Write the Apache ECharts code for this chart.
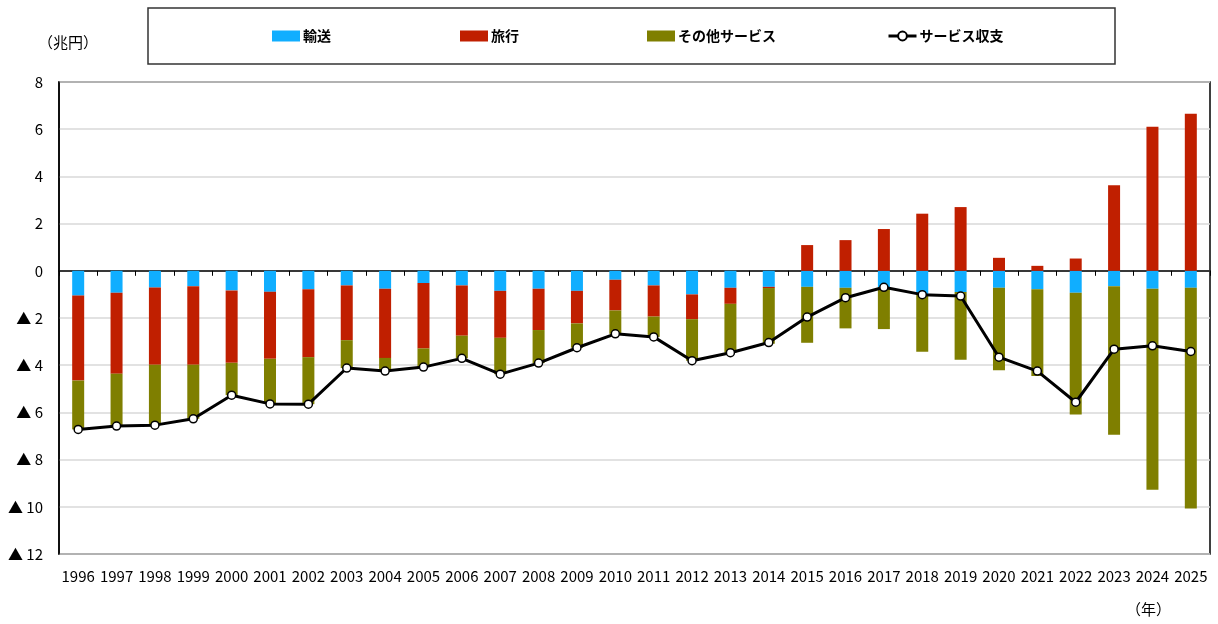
<!DOCTYPE html>
<html>
<head>
<meta charset="utf-8">
<script src="https://cdn.jsdelivr.net/npm/echarts@6/dist/echarts.min.js"></script>
<style>
html, body { margin: 0; padding: 0; background: #fff; }
#container { width: 1218px; height: 624px; }
</style>
</head>
<body>
<div id="container"></div>
<script>
var years = ['1996','1997','1998','1999','2000','2001','2002','2003','2004','2005',
    '2006','2007','2008','2009','2010','2011','2012','2013','2014','2015',
    '2016','2017','2018','2019','2020','2021','2022','2023','2024','2025'];

// 輸送
var transport = [-1.05,-0.93,-0.71,-0.65,-0.83,-0.89,-0.78,-0.62,-0.76,-0.52,
    -0.62,-0.85,-0.76,-0.85,-0.38,-0.62,-1.00,-0.72,-0.68,-0.68,
    -0.72,-0.69,-0.99,-0.90,-0.72,-0.78,-0.93,-0.65,-0.76,-0.72];
// 旅行
var travel = [-3.60,-3.43,-3.27,-3.33,-3.07,-2.84,-2.88,-2.32,-2.93,-2.77,
    -2.13,-1.99,-1.75,-1.38,-1.30,-1.32,-1.05,-0.68,-0.05,1.09,
    1.30,1.77,2.42,2.70,0.55,0.21,0.52,3.63,6.10,6.65];
// その他サービス
var other = [-2.07,-2.22,-2.56,-2.29,-1.37,-1.91,-1.99,-1.18,-0.56,-0.79,
    -0.96,-1.54,-1.40,-1.03,-0.99,-0.86,-1.76,-2.07,-2.36,-2.37,
    -1.72,-1.78,-2.44,-2.87,-3.49,-3.68,-5.16,-6.30,-8.52,-9.35];
// サービス収支
var balance = [-6.72,-6.58,-6.54,-6.27,-5.27,-5.64,-5.65,-4.12,-4.25,-4.08,
    -3.71,-4.38,-3.91,-3.26,-2.67,-2.80,-3.81,-3.47,-3.04,-1.96,
    -1.14,-0.70,-1.01,-1.07,-3.66,-4.25,-5.57,-3.32,-3.18,-3.42];

var font = '"Noto Sans CJK JP", "Noto Sans", sans-serif';

// one legend per item so each sits where the original puts it
function legendAt(left, item) {
    return {
        left: left, top: 29, padding: 0,
        itemWidth: 28, itemHeight: 11, itemGap: 0,
        textStyle: { fontSize: 14, fontWeight: 'bold', color: '#000', fontFamily: font, padding: [0, 0, 0, -2] },
        data: [item]
    };
}

var chart = echarts.init(document.getElementById('container'), null, { renderer: 'canvas' });

chart.setOption({
    animation: false,
    textStyle: { fontFamily: font },
    grid: {
        left: 59, right: 8, top: 82, bottom: 70,
        show: true, borderColor: '#000', borderWidth: 1.5
    },
    legend: [
        legendAt(272, { name: '輸送', icon: 'rect' }),
        legendAt(460, { name: '旅行', icon: 'rect' }),
        legendAt(647, { name: 'その他サービス', icon: 'rect' }),
        legendAt(887, { name: 'サービス収支', lineStyle: { width: 3, color: '#000' } })
    ],
    graphic: [
        { type: 'rect', shape: { x: 148, y: 8, width: 967, height: 56 },
          style: { fill: 'none', stroke: '#333', lineWidth: 1.5 } },
        { type: 'text', left: 38, top: 35,
          style: { text: '（兆円）', font: '15px ' + font, fill: '#000' } },
        { type: 'text', left: 1126, top: 602,
          style: { text: '（年）', font: '15px ' + font, fill: '#000' } }
    ],
    xAxis: [
        {
            type: 'category', data: years, position: 'bottom',
            axisLine: { show: false, onZero: false },
            axisTick: { show: false },
            axisLabel: { color: '#000', fontSize: 15, margin: 15, interval: 0 }
        },
        {
            type: 'category', data: years,
            axisLine: { show: true, onZero: true, lineStyle: { color: '#000', width: 1.5 } },
            axisTick: { show: true, inside: true, length: 5, lineStyle: { color: '#000' } },
            axisLabel: { show: false }
        }
    ],
    yAxis: {
        type: 'value', min: -12, max: 8, interval: 2,
        axisLine: { show: true, lineStyle: { color: '#000', width: 1.5 } },
        axisTick: { show: false },
        splitLine: { lineStyle: { color: '#d9d9d9', width: 1.5 } },
        axisLabel: {
            color: '#000', fontSize: 15, margin: 16,
            formatter: function (v) { return v < 0 ? '▲ ' + (-v) : String(v); }
        }
    },
    series: [
        { name: '輸送', type: 'bar', stack: 'svc', data: transport, barWidth: 12,
          itemStyle: { color: '#10aeff' } },
        { name: '旅行', type: 'bar', stack: 'svc', data: travel, barWidth: 12,
          itemStyle: { color: '#c01f00' } },
        { name: 'その他サービス', type: 'bar', stack: 'svc', data: other, barWidth: 12,
          itemStyle: { color: '#7f7f00' } },
        { name: 'サービス収支', type: 'line', data: balance, z: 5,
          symbol: 'circle', symbolSize: 8,
          lineStyle: { color: '#000', width: 3 },
          itemStyle: { color: '#fff', borderColor: '#000', borderWidth: 1.5 } }
    ]
});
</script>
</body>
</html>
